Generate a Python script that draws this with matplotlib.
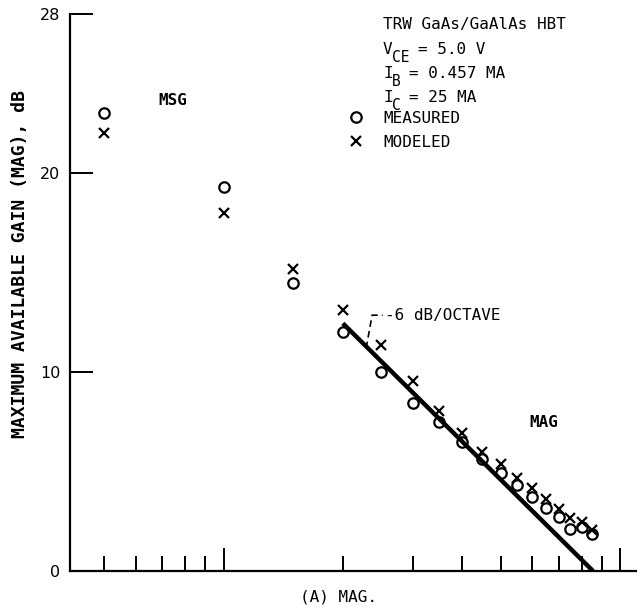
import numpy as np
import matplotlib
matplotlib.use("Agg")
from matplotlib import pyplot as plt

# frequency points (GHz, log axis) and gains in dB
freq = [0.5, 1.0, 1.5, 2.0, 2.5, 3.0, 3.5, 4.0, 4.5, 5.0, 5.5, 6.0, 6.5, 7.0, 7.5, 8.0, 8.5]
measured = [23.0, 19.3, 14.5, 12.0, 10.0, 8.45, 7.5, 6.5, 5.65, 4.95, 4.3, 3.7, 3.15, 2.7, 2.1, 2.2, 1.85]
modeled = [22.0, 18.0, 15.2, 13.1, 11.35, 9.55, 8.05, 6.95, 6.0, 5.4, 4.65, 4.15, 3.6, 3.1, 2.65, 2.45, 2.05]

# -6 dB/octave asymptote
slope_f = [2.0, 8.55]
slope_g = [12.45, 0.0]

yticks = [0, 10, 20, 28]
xminor = [0.5, 0.6, 0.7, 0.8, 0.9, 2, 3, 4, 5, 6, 7, 8, 9]
xmajor = [1, 10]

mono = "DejaVu Sans Mono"

W, H = 637, 614
fig = plt.figure(figsize=(W / 100, H / 100), dpi=100)
ax = fig.add_axes([70 / W, 43 / H, (W - 70) / W, (571 - 14) / H])

ax.set_xscale('log')
ax.set_xlim(0.41, 11.04)
ax.set_ylim(0, 28)

for s in ['top', 'right']:
    ax.spines[s].set_visible(False)
for s in ['left', 'bottom']:
    ax.spines[s].set_linewidth(1.6)

ax.set_yticks(yticks)
ax.set_yticklabels([str(v) for v in yticks], fontsize=11.5)
ax.tick_params(axis='y', direction='in', length=16.5, width=1.4, pad=7)
ax.set_xticks(xmajor)
ax.set_xticks(xminor, minor=True)
ax.set_xticklabels([])
ax.xaxis.set_minor_formatter(matplotlib.ticker.NullFormatter())
ax.tick_params(axis='x', which='major', direction='in', length=16.5, width=1.4)
ax.tick_params(axis='x', which='minor', direction='in', length=10.5, width=1.4)

ax.plot(slope_f, slope_g, color='black', lw=3.2, solid_capstyle='butt')
m1, = ax.plot(freq, measured, 'o', mfc='none', mec='black', mew=1.6, ms=7.5, label='MEASURED')
m2, = ax.plot(freq, modeled, 'x', color='black', mew=1.6, ms=7, label='MODELED')

# leader for the slope note
ax.plot([2.29, 2.37, 2.52], [11.2, 12.86, 12.86], color='black', lw=1.2, ls=(0, (4, 2.5)))
ax.text(2.56, 12.86, '-6 dB/OCTAVE', family=mono, fontsize=11.5, va='center', ha='left')

ax.text(0.744, 23.67, 'MSG', family=mono, fontsize=11.5, weight='bold', ha='center', va='center')
ax.text(6.43, 7.44, 'MAG', family=mono, fontsize=11.5, weight='bold', ha='center', va='center')

def fx(px):
    return px / W

def fy(py):
    return 1 - py / H

fig.text(fx(383), fy(25), 'TRW GaAs/GaAlAs HBT', family=mono, fontsize=11.5, va='center')
# symbol, subscript, rest of line
hdr = [('V', 'CE', '= 5.0 V'), ('I', 'B', '= 0.457 MA'), ('I', 'C', '= 25 MA')]
for i, (sym, sub, rest) in enumerate(hdr):
    yc = 49 + 24 * i
    fig.text(fx(383), fy(yc), sym, family=mono, fontsize=11.5, va='center')
    fig.text(fx(392), fy(yc + 8), sub, family=mono, fontsize=10.5, va='center')
    fig.text(fx(392 + 9.2 * len(sub) + 8), fy(yc), rest, family=mono, fontsize=11.5, va='center')

leg = ax.legend(handles=[m1, m2], loc='upper left', bbox_to_anchor=(fx(348), fy(111)),
                bbox_transform=fig.transFigure, frameon=False,
                prop={'family': mono, 'size': 11.5}, handlelength=1.0, handletextpad=1.2,
                labelspacing=0.55, borderpad=0, borderaxespad=0)

ax.set_ylabel('MAXIMUM AVAILABLE GAIN (MAG), dB', family=mono, fontsize=13, weight='bold')
ax.yaxis.set_label_coords(fx(29), fy(264), transform=fig.transFigure)

fig.text(fx(338), fy(597), '(A) MAG.', family=mono, fontsize=11.5, ha='center', va='center')

fig.savefig('out.png', dpi=100)
